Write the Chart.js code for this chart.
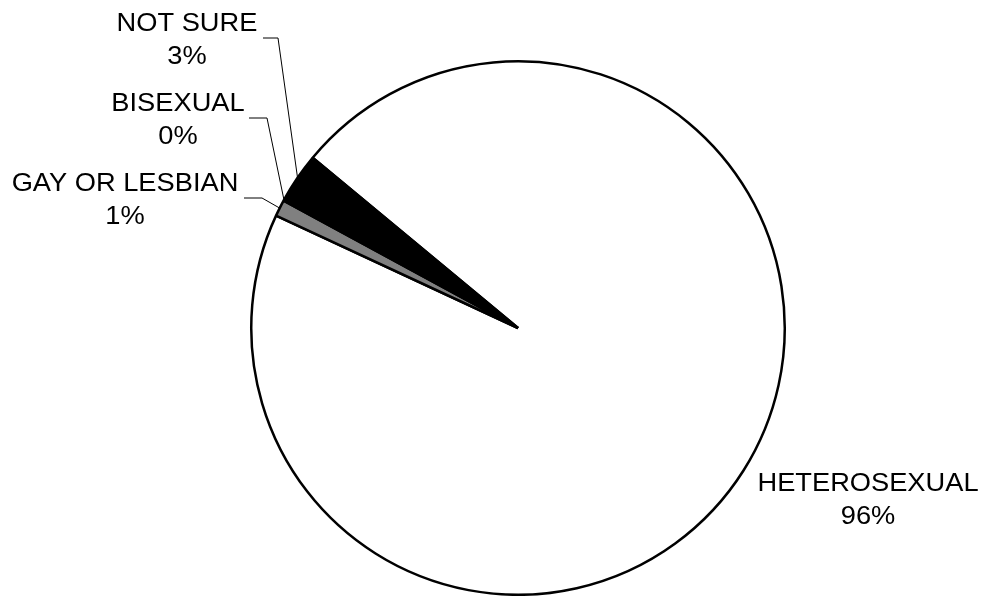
<!DOCTYPE html>
<html><head><meta charset="utf-8">
<script src="https://cdn.jsdelivr.net/npm/chart.js@4"></script>
<style>html,body{margin:0;padding:0;background:#fff}canvas{display:block}</style>
</head><body>
<canvas id="c" width="985" height="596"></canvas>
<script>
const categories = ['HETEROSEXUAL', 'GAY OR LESBIAN', 'BISEXUAL', 'NOT SURE'];
const values = [95.9, 1.0, 0.1, 3.0];
const percentLabels = ['96%', '1%', '0%', '3%'];
const sliceColors = ['#ffffff', '#808080', '#000000', '#000000'];

// label layout: text centre x, first baseline y, leader elbow and leader end (null = no leader)
const labelLayout = [
  { cx: 868, by: 491, elbow: null, end: null },
  { cx: 125, by: 191, elbow: [262, 198], end: [244, 198] },
  { cx: 178, by: 111, elbow: [267, 118], end: [249, 118] },
  { cx: 187, by: 31, elbow: [278, 38], end: [263, 38] }
];

const labelPlugin = {
  id: 'outLabels',
  afterDatasetsDraw(chart) {
    const ctx = chart.ctx;
    const meta = chart.getDatasetMeta(0);
    ctx.save();
    meta.data.forEach((arc, i) => {
      const L = labelLayout[i];
      const p = arc.getProps(['x', 'y', 'startAngle', 'endAngle', 'outerRadius'], true);
      const mid = (p.startAngle + p.endAngle) / 2;
      if (L.elbow) {
        const sx = p.x + Math.cos(mid) * p.outerRadius;
        const sy = p.y + Math.sin(mid) * p.outerRadius;
        ctx.beginPath();
        ctx.strokeStyle = '#000';
        ctx.lineWidth = 1;
        ctx.moveTo(sx, sy);
        ctx.lineTo(L.elbow[0], L.elbow[1]);
        ctx.lineTo(L.end[0], L.end[1]);
        ctx.stroke();
      }
      ctx.fillStyle = '#000';
      ctx.font = '25px "Liberation Sans", Arial, sans-serif';
      ctx.textAlign = 'center';
      ctx.textBaseline = 'alphabetic';
      const lines = [categories[i], percentLabels[i]];
      lines.forEach((t, k) => {
        ctx.save();
        ctx.translate(L.cx, L.by + k * 33.3);
        ctx.scale(1.09, 1);
        ctx.fillText(t, 0, 0);
        ctx.restore();
      });
    });
    ctx.restore();
  }
};

new Chart(document.getElementById('c'), {
  type: 'pie',
  data: {
    labels: categories,
    datasets: [{
      data: values,
      backgroundColor: sliceColors,
      borderColor: '#000000',
      borderWidth: 2.5,
      borderAlign: 'center'
    }]
  },
  options: {
    responsive: false,
    devicePixelRatio: 1,
    animation: false,
    rotation: -50.33,
    layout: { padding: { left: 250, right: 199, top: 60, bottom: 0 } },
    plugins: {
      legend: { display: false },
      tooltip: { enabled: false },
      title: { display: false }
    }
  },
  plugins: [labelPlugin]
});
</script>
</body></html>
